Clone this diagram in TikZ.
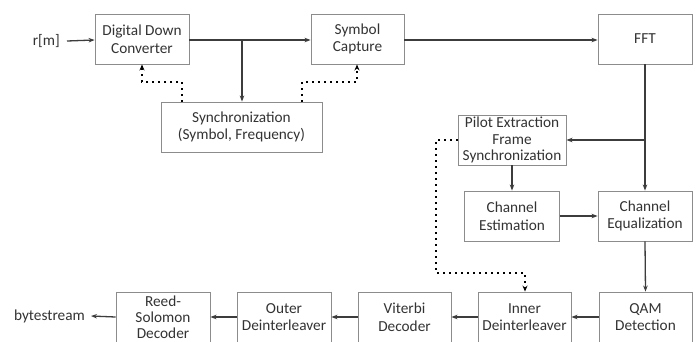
\documentclass[tikz,border=0pt]{standalone}
\usepackage{fontspec}
\setmainfont{Carlito}
\usetikzlibrary{arrows.meta}
\definecolor{linec}{HTML}{3C3C3C}
\definecolor{boxc}{HTML}{8C8C8C}
\definecolor{txtc}{HTML}{333333}
\tikzset{
  blk/.style={draw=boxc, line width=0.9pt, fill=white, minimum width=#1, minimum height=50pt, inner sep=0pt, align=center, font=\fontsize{15.3}{17.5}\selectfont, text=txtc},
  blk/.default=94pt,
  lbl/.style={inner sep=0pt, font=\fontsize{15.3}{17.5}\selectfont, text=txtc},
  conn/.style={draw=linec, line width=1.3pt, -{Stealth[length=6pt,width=4.5pt]}},
  dots/.style={draw=black, line width=1.6pt, dash pattern=on 1.6pt off 4.4pt, -{Stealth[length=6pt,width=5pt]}},
}
\begin{document}
\begin{tikzpicture}[x=1pt,y=-1pt]
\useasboundingbox (0,0) rectangle (699,341);
\clip (0,0) rectangle (699,341);
\fill[white] (0,0) rectangle (699,341);
% top row
\node[blk] (ddc) at (142,39) {Digital Down\\Converter};
\node[blk=93pt] (sc) at (357.5,39) {Symbol\\Capture};
\node[blk] (fft) at (645,39) {FFT};
\node[blk=161pt] (sync) at (241.5,127) {Synchronization\\(Symbol, Frequency)};
\node[lbl, anchor=east] (rm) at (60,41) {r[m]};
% middle
\node[blk=108pt, font=\fontsize{15.3}{16.5}\selectfont] (pilot) at (512,140) {Pilot Extraction\\Frame\\Synchronization};
\node[blk=95pt] (ce) at (512,216) {Channel\\Estimation};
\node[blk] (ceq) at (645,216) {Channel\\Equalization};
% bottom row
\node[blk=93pt] (qam) at (645.5,317) {QAM\\Detection};
\node[blk=93pt] (inner) at (524.5,317) {Inner\\Deinterleaver};
\node[blk=93pt] (vit) at (404.5,317) {Viterbi\\Decoder};
\node[blk] (outer) at (284,317) {Outer\\Deinterleaver};
\node[blk, font=\fontsize{15.3}{16}\selectfont, text depth=0pt] (rs) at (163,317) {Reed-\\Solomon\\Decoder};
\node[lbl, anchor=east] (bs) at (85,316) {bytestream};
% coordinates
\coordinate (b1) at (242,40);
\coordinate (b2) at (645,140);
% connectors
\draw[conn] (rm.east) ++(7,0) -- (ddc.west |- 0,40);
\draw[conn] (ddc.east |- b1) -- (sc.west |- b1);
\draw[conn] (b1) -- (sync.north -| b1);
\draw[conn] (sc.east |- b1) -- (fft.west |- b1);
\draw[conn] (fft.south) -- (ceq.north);
\draw[conn] (b2) -- (pilot.east |- b2);
\draw[conn] (pilot.south) -- (ce.north);
\draw[conn] (ce.east) -- (ceq.west);
\draw[conn] (ceq.south) -- (qam.north);
\draw[conn] (qam.west) -- (inner.east);
\draw[conn] (inner.west) -- (vit.east);
\draw[conn] (vit.west) -- (outer.east);
\draw[conn] (outer.west) -- (rs.east);
\draw[conn] (rs.west) -- ([xshift=6pt]bs.east);
% dotted feedback
\coordinate (d1) at (182,102);
\coordinate (d2) at (302,102);
\draw[dots] (d1) -- (182,82) -- (142,82) -- (ddc.south);
\draw[dots] (d2) -- (302,82) -- (357,82) -- (sc.south -| 357,0);
\draw[dots] (pilot.west) -- (436,140) -- (436,273) -- (525,273) -- (inner.north -| 525,0);
\end{tikzpicture}
\end{document}
